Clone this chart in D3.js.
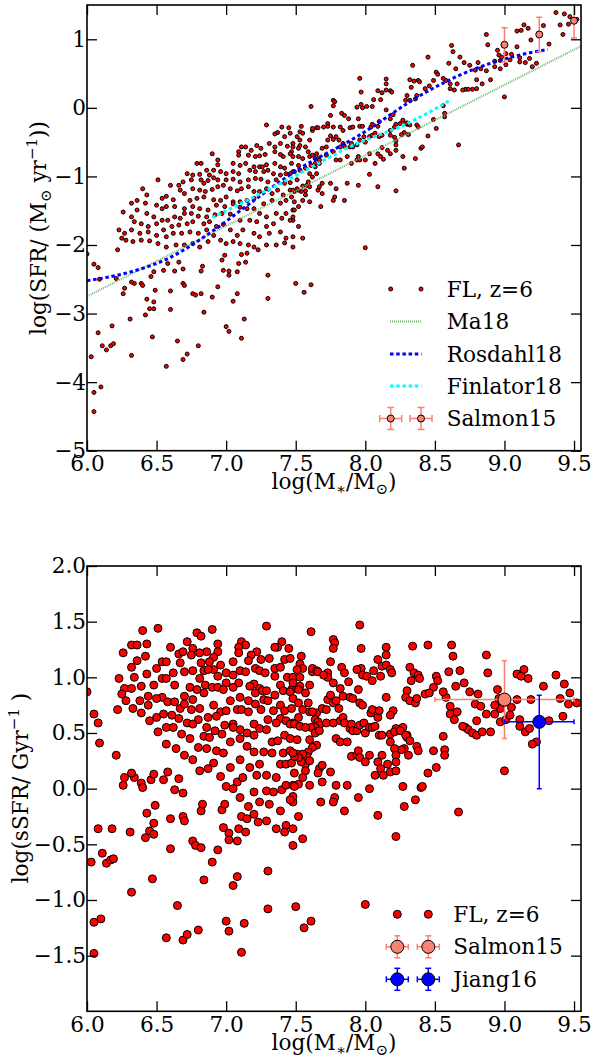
<!DOCTYPE html>
<html>
<head>
    <meta charset="UTF-8">
    <title>SFR and sSFR vs stellar mass</title>
    <script src="https://d3js.org/d3.v7.min.js"></script>
    <style>
        body { margin: 0; background: #fff; }
        text { font-family: "DejaVu Serif", serif; fill: #000; }
    </style>
</head>
<body>
<div id="chart"></div>
<script>

    // FL galaxies at z=6: [log(M*/Msun), log(SFR)]
    var flGalaxies = [
        [7.29,-0.25],[7.40,-0.28],[7.37,-0.36],[7.35,-0.38],[7.45,-0.29],[7.42,-0.42],[7.31,-0.52],[7.35,-0.57],[7.39,-0.52],[7.44,-0.56],[7.48,-0.52],
        [7.11,-0.57],[7.14,-0.57],[7.22,-0.55],[7.25,-0.59],[7.18,-0.62],[6.90,-0.67],[7.09,-0.64],[7.09,-0.69],[7.16,-0.69],[7.21,-0.71],[7.24,-0.70],
        [7.28,-0.68],[7.35,-0.64],[7.39,-0.68],[7.41,-0.71],[7.47,-0.64],[6.79,-0.81],[6.82,-0.81],[6.94,-0.76],[6.94,-0.83],[7.05,-0.81],[7.10,-0.84],
        [7.14,-0.81],[7.20,-0.86],[7.24,-0.86],[7.26,-0.86],[7.29,-0.83],[7.35,-0.81],[7.39,-0.86],[7.42,-0.88],[7.47,-0.81],[7.52,-0.84],[6.86,-0.91],
        [6.91,-0.91],[6.96,-0.93],[7.00,-0.96],[7.05,-0.93],[7.09,-0.96],[7.17,-0.91],[7.21,-0.93],[7.27,-0.93],[7.30,-0.91],[7.34,-0.96],[7.39,-0.98],
        [7.43,-0.96],[7.48,-0.93],[6.72,-0.96],[6.76,-0.98],[6.81,-0.97],[6.88,-0.98],[6.91,-1.02],[6.94,-1.05],[6.51,-1.05],[6.66,-1.13],[6.69,-1.08],
        [6.75,-1.05],[6.82,-1.05],[6.84,-1.10],[6.87,-1.06],[7.00,-1.05],[7.05,-1.04],[7.10,-1.08],[7.16,-1.05],[7.21,-1.03],[7.25,-1.04],[7.30,-1.08],
        [7.36,-1.05],[7.42,-1.10],[7.46,-1.09],[7.51,-1.05],[6.60,-1.13],[6.67,-1.20],[6.70,-1.25],[6.76,-1.18],[6.81,-1.20],[6.85,-1.22],[6.90,-1.19],
        [6.94,-1.15],[6.98,-1.13],[7.03,-1.18],[7.08,-1.21],[7.11,-1.18],[7.16,-1.15],[7.20,-1.22],[7.24,-1.22],[7.29,-1.18],[7.33,-1.25],[7.37,-1.20],
        [7.41,-1.27],[7.46,-1.20],[7.51,-1.18],[6.40,-1.18],[6.43,-1.27],[6.54,-1.32],[6.57,-1.29],[6.62,-1.34],[6.74,-1.35],[6.79,-1.32],[6.84,-1.30],
        [6.91,-1.34],[6.96,-1.35],[7.00,-1.30],[7.05,-1.37],[7.10,-1.37],[7.15,-1.35],[7.20,-1.32],[6.32,-1.39],[6.36,-1.35],[6.42,-1.39],[6.50,-1.42],
        [6.54,-1.47],[6.57,-1.44],[6.63,-1.44],[6.70,-1.47],[6.76,-1.44],[6.81,-1.47],[6.87,-1.49],[6.93,-1.42],[6.99,-1.44],[7.05,-1.40],[7.27,-1.40],
        [7.33,-1.35],[7.39,-1.39],[7.43,-1.35],[7.47,-1.30],[7.49,-1.37],[6.26,-1.52],[6.32,-1.59],[6.36,-1.49],[6.43,-1.54],[6.48,-1.59],[6.54,-1.64],
        [6.58,-1.64],[6.63,-1.59],[6.67,-1.61],[6.70,-1.54],[6.75,-1.54],[6.80,-1.58],[6.86,-1.59],[6.92,-1.56],[6.97,-1.54],[7.03,-1.55],[7.10,-1.45],
        [7.15,-1.47],[7.20,-1.47],[7.24,-1.54],[7.29,-1.59],[7.36,-1.54],[7.40,-1.61],[7.43,-1.54],[7.48,-1.49],[7.52,-1.44],[6.34,-1.66],[6.39,-1.69],
        [6.44,-1.73],[6.50,-1.69],[6.55,-1.78],[6.61,-1.73],[6.66,-1.71],[6.72,-1.69],[6.76,-1.66],[6.84,-1.69],[6.88,-1.66],[6.93,-1.73],[6.98,-1.70],
        [7.10,-1.64],[7.17,-1.64],[7.22,-1.66],[7.29,-1.73],[7.34,-1.69],[7.48,-1.64],[7.52,-1.73],[6.23,-1.78],[6.27,-1.83],[6.32,-1.78],[6.38,-1.83],
        [6.44,-1.81],[6.50,-1.86],[6.57,-1.88],[6.62,-1.83],[6.68,-1.83],[6.74,-1.81],[6.80,-1.83],[6.86,-1.78],[6.91,-1.86],[7.03,-1.78],[7.08,-1.86],
        [7.12,-1.78],[7.20,-1.83],[7.24,-1.88],[7.31,-1.83],[7.39,-1.81],[7.43,-1.90],[7.48,-1.88],[6.25,-1.90],[6.28,-1.93],[6.33,-1.95],[6.39,-1.93],
        [6.45,-1.94],[6.51,-1.98],[6.57,-2.03],[6.64,-2.00],[6.70,-2.00],[6.76,-1.98],[6.81,-2.03],[6.87,-1.95],[6.96,-1.93],[7.00,-1.98],[7.05,-1.95],
        [7.10,-1.98],[7.16,-2.00],[7.20,-2.03],[7.29,-2.00],[7.36,-2.00],[7.42,-1.97],[7.48,-2.03],
        [6.00,-2.13],[6.05,-2.28],[6.08,-2.33],[6.09,-2.50],[6.22,-2.07],[6.21,-2.49],[6.27,-2.63],[6.26,-2.71],[6.34,-2.56],[6.32,-2.54],[6.39,-2.56],
        [6.40,-2.59],[6.46,-2.46],[6.48,-2.39],[6.43,-2.79],[6.48,-2.83],[6.45,-2.93],[6.48,-2.93],[6.49,-2.66],[6.55,-2.37],[6.58,-2.27],[6.60,-2.67],
        [6.66,-2.25],[6.69,-2.35],[6.63,-2.38],[6.69,-2.56],[6.70,-2.59],[6.76,-2.71],[6.78,-2.73],[6.82,-2.71],[6.82,-2.38],[6.83,-2.31],[6.90,-2.76],
        [6.94,-2.61],[6.98,-2.37],[6.97,-2.22],[6.99,-2.15],[7.02,-2.38],[7.02,-2.44],[7.05,-2.82],[7.08,-2.71],[7.08,-2.39],[7.09,-2.27],[7.11,-2.14],
        [7.14,-2.25],[7.15,-2.12],[7.23,-2.07],[7.30,-2.44],[7.30,-2.78],[7.50,-2.56],[6.03,-3.63],[6.08,-3.28],[6.11,-3.47],[6.10,-4.07],[6.05,-4.15],
        [6.05,-4.43],[6.14,-3.53],[6.17,-3.47],[6.19,-3.44],[6.18,-3.18],[6.31,-3.08],[6.32,-3.61],[6.42,-3.02],[6.47,-3.34],[6.60,-2.94],[6.57,-3.77],
        [6.65,-3.40],[6.69,-3.67],[6.72,-3.59],[6.80,-3.47],[6.84,-2.98],[7.00,-3.19],[7.02,-3.26],[7.11,-3.36],[7.13,-3.08],[7.56,-2.69],[7.61,-2.58],
        [9.37,1.39],[9.43,1.37],[9.47,1.33],[9.52,1.29],[9.40,1.21],[9.46,1.22],[9.42,1.07],[9.14,1.21],[9.17,1.16],[9.09,1.12],[9.12,1.13],
        [9.19,0.99],[9.28,1.20],[9.32,0.93],[9.23,0.65],[9.20,0.60],[8.87,1.07],[8.88,0.92],[8.95,0.84],[8.96,0.77],[8.98,0.74],[9.01,0.79],
        [9.05,0.78],[9.09,0.89],[9.11,0.73],[9.15,0.66],[9.18,0.72],[9.11,0.67],[8.97,0.69],[8.93,0.68],[8.97,0.57],[9.01,0.63],[9.04,0.70],
        [9.00,0.16],[8.90,0.41],[8.62,0.91],[8.63,0.82],[8.68,0.74],[8.45,0.74],[8.60,0.65],[8.65,0.57],[8.71,0.66],[8.75,0.62],[8.79,0.55],
        [8.83,0.57],[8.81,0.66],[8.87,0.54],[8.93,0.60],[8.51,0.52],[8.52,0.49],[8.58,0.40],[8.61,0.35],[8.61,0.28],[8.56,0.43],[8.49,0.40],
        [8.43,0.28],[8.46,0.32],[8.64,0.26],[8.66,0.35],[8.72,0.27],[8.74,0.27],[8.70,0.26],[8.77,0.27],[8.80,0.28],[8.84,0.35],[8.80,0.41],
        [8.34,0.62],[8.32,0.41],[8.35,0.39],[8.38,0.40],[8.39,0.38],[8.33,0.30],[8.30,0.18],[8.29,0.11],[8.32,0.11],[8.36,0.13],[8.37,0.18],
        [7.96,0.43],[8.15,0.42],[8.15,0.35],[8.12,0.22],[8.15,0.26],[8.18,0.25],[8.19,0.23],[7.97,0.23],[7.97,0.05],[7.94,0.01],[7.98,0.00],
        [8.01,0.02],[8.05,0.02],[8.09,0.25],[8.11,0.12],[8.06,0.12],[7.77,0.11],[7.78,0.09],[7.77,0.03],[7.83,-0.08],[7.85,-0.11],[7.88,-0.16],
        [7.95,-0.16],[7.96,-0.27],[7.98,-0.27],[8.04,-0.28],[8.05,-0.24],[8.09,-0.27],[8.10,-0.20],[8.15,-0.03],[8.20,-0.10],[8.18,-0.16],[8.22,-0.24],
        [8.27,-0.18],[8.30,-0.22],[8.30,-0.24],[7.61,0.02],[7.75,-0.11],[7.73,-0.23],[7.73,-0.27],[7.77,-0.28],[7.82,-0.28],[7.84,-0.33],[7.89,-0.29],
        [7.91,-0.28],[7.54,-0.27],[7.53,-0.35],[7.55,-0.37],[7.60,-0.47],[7.62,-0.33],[7.62,-0.30],[7.65,-0.29],[7.66,-0.29],[7.70,-0.28],[7.46,-0.37],
        [7.51,-0.42],[7.53,-0.47],[7.48,-0.57],[7.53,-0.55],[7.52,-0.59],[7.57,-0.57],[7.59,-0.64],[7.65,-0.67],[7.69,-0.59],[7.72,-0.57],[7.73,-0.47],
        [7.75,-0.41],[7.77,-0.46],[7.79,-0.42],[7.81,-0.47],[7.82,-0.57],[7.84,-0.52],[7.85,-0.56],[7.89,-0.57],[7.90,-0.52],[7.91,-0.57],[7.94,-0.54],
        [7.96,-0.47],[7.99,-0.42],[8.00,-0.50],[8.03,-0.42],[8.05,-0.40],[8.07,-0.37],[8.10,-0.42],[8.12,-0.40],[8.18,-0.33],[8.21,-0.28],[8.25,-0.23],
        [8.29,-0.23],[8.32,-0.25],[8.37,-0.25],[8.38,-0.28],[8.28,-0.36],[8.26,-0.39],[8.31,-0.39],[8.18,-0.40],[8.21,-0.43],[8.22,-0.48],[8.22,-0.54],
        [8.45,-0.41],[7.46,-0.67],[7.48,-0.71],[7.52,-0.71],[7.55,-0.74],[7.60,-0.71],[7.62,-0.69],[7.64,-0.74],[7.66,-0.74],[7.67,-0.76],[7.64,-0.81],
        [7.61,-0.84],[7.64,-0.86],[7.67,-0.81],[7.72,-0.69],[7.77,-0.64],[7.79,-0.76],[7.82,-0.76],[7.87,-0.71],[7.90,-0.81],[7.94,-0.76],[7.95,-0.71],
        [7.96,-0.76],[8.00,-0.76],[8.03,-0.67],[8.09,-0.67],[8.11,-0.71],[8.13,-0.75],[8.18,-0.67],[8.12,-0.58],[8.16,-0.62],[8.22,-0.62],[7.46,-0.96],
        [7.49,-0.93],[7.53,-0.91],[7.57,-0.88],[7.60,-0.96],[7.65,-0.96],[7.62,-1.01],[7.59,-1.08],[7.58,-1.13],[7.55,-1.14],[7.57,-1.21],[7.60,-1.15],
        [7.54,-1.22],[7.52,-1.20],[7.49,-1.22],[7.48,-1.20],[7.57,-1.27],[7.55,-1.35],[7.60,-1.37],[7.67,-1.15],[7.69,-1.25],[7.69,-1.10],[7.66,-1.20],
        [7.75,-1.10],[7.79,-1.18],[7.78,-1.30],[7.77,-1.35],[7.85,-1.35],[7.87,-1.10],[7.95,-1.13],[8.03,-0.97],[8.07,-0.81],[8.09,-1.15],[8.22,-1.21],
        [8.27,-0.71],[8.28,-0.88],[8.36,-0.74],[8.40,-0.59],[8.41,-0.57],[8.67,-0.54],[8.49,-0.17],[8.51,-0.30],[8.57,-0.08],[8.57,-0.13],[8.56,0.03],
        [7.49,-1.49],[7.48,-1.59],[7.46,-1.64],[7.68,-1.44],[7.55,-1.90],[8.00,-2.04]
    ];

    // model relations (upper panel)
    var ma18M = [6.0, 9.55];
    var ma18SFR = [-2.75, 0.90];
    var rosdahl18M = [6.0, 6.3, 6.6, 6.9, 7.2, 7.5, 7.94, 8.42, 8.66, 8.90, 9.13, 9.31];
    var rosdahl18SFR = [-2.52, -2.40, -2.18, -1.80, -1.35, -0.92, -0.42, 0.21, 0.46, 0.65, 0.78, 0.85];
    var finlator18M = [6.9, 7.0, 7.46, 7.94, 8.30, 8.60];
    var finlator18SFR = [-1.60, -1.50, -1.03, -0.52, -0.23, 0.10];

    // observations
    var salmonTopM = [9.0, 9.25, 9.5];
    var salmonTopSFR = [0.92, 1.07, 1.27];
    var salmonTopErr = [0.25, 0.25, 0.25];
    var salmonM = [9.0], salmonSSFR = [0.80], salmonMErr = [0.5], salmonSSFRErr = [0.35];
    var jiangM = [9.25], jiangSSFR = [0.60], jiangMErr = [0.25], jiangErrLow = [0.60], jiangErrHigh = [0.24];

    var xTicks = [6.0, 6.5, 7.0, 7.5, 8.0, 8.5, 9.0, 9.5];
    var sfrTicks = [-5, -4, -3, -2, -1, 0, 1];
    var ssfrTicks = [-1.5, -1.0, -0.5, 0.0, 0.5, 1.0, 1.5, 2.0];

    var salmonColor = "#fa8072";
    var fontSize = 21.6, smallSize = 15;

    var svg = d3.select("#chart").append("svg")
        .attr("width", 594)
        .attr("height", 1063);

    var x = d3.scaleLinear().domain([6, 9.55]).range([87, 581]);
    var yTop = d3.scaleLinear().domain([-5, 1.5]).range([450.7, 5]);
    var yBot = d3.scaleLinear().domain([-2, 2]).range([1011.3, 566]);

    function addClip(id, y) {
        svg.append("clipPath").attr("id", id).append("rect")
            .attr("x", x.range()[0]).attr("y", y.range()[1])
            .attr("width", x.range()[1] - x.range()[0])
            .attr("height", y.range()[0] - y.range()[1]);
        return svg.append("g").attr("clip-path", "url(#" + id + ")");
    }

    function drawFrame(y, yTicks, yFormat) {
        var y0 = y.range()[0], y1 = y.range()[1];
        var x0 = x.range()[0], x1 = x.range()[1];
        var axes = [
            svg.append("g").attr("transform", "translate(0," + y0 + ")")
                .call(d3.axisBottom(x).tickValues(xTicks).tickSize(-10).tickPadding(5).tickFormat(d3.format(".1f"))),
            svg.append("g").attr("transform", "translate(0," + y1 + ")")
                .call(d3.axisTop(x).tickValues(xTicks).tickSize(-10).tickFormat("")),
            svg.append("g").attr("transform", "translate(" + x0 + ",0)")
                .call(d3.axisLeft(y).tickValues(yTicks).tickSize(-10).tickPadding(1).tickFormat(yFormat)),
            svg.append("g").attr("transform", "translate(" + x1 + ",0)")
                .call(d3.axisRight(y).tickValues(yTicks).tickSize(-10).tickFormat(""))
        ];
        axes.forEach(function (g) {
            g.select(".domain").remove();
            g.attr("font-family", null).attr("font-size", fontSize);
            g.selectAll("line").attr("stroke", "#000").attr("stroke-width", 1.3);
        });
        svg.append("rect")
            .attr("x", x0).attr("y", y1)
            .attr("width", x1 - x0).attr("height", y0 - y1)
            .attr("fill", "none").attr("stroke", "#000").attr("stroke-width", 1.6);
    }

    // draws one errorbar point; errors given in data units
    function errorPoint(g, y, m, v, mLo, mHi, vLo, vHi, color, r, cap) {
        var cx = x(m), cy = y(v);
        if (mLo > 0 || mHi > 0) {
            g.append("line").attr("x1", x(m - mLo)).attr("x2", x(m + mHi)).attr("y1", cy).attr("y2", cy)
                .attr("stroke", color).attr("stroke-width", 1.5);
            [m - mLo, m + mHi].forEach(function (e) {
                g.append("line").attr("x1", x(e)).attr("x2", x(e)).attr("y1", cy - cap).attr("y2", cy + cap)
                    .attr("stroke", color).attr("stroke-width", 1.5);
            });
        }
        g.append("line").attr("x1", cx).attr("x2", cx).attr("y1", y(v - vLo)).attr("y2", y(v + vHi))
            .attr("stroke", color).attr("stroke-width", 1.5);
        [v - vLo, v + vHi].forEach(function (e) {
            g.append("line").attr("x1", cx - cap).attr("x2", cx + cap).attr("y1", y(e)).attr("y2", y(e))
                .attr("stroke", color).attr("stroke-width", 1.5);
        });
        g.append("circle").attr("cx", cx).attr("cy", cy).attr("r", r)
            .attr("fill", color).attr("stroke", "#000").attr("stroke-width", 1);
    }

    // legend marker with fixed pixel error arms
    function legendErr(g, cx, cy, color, r, arm, cap) {
        g.append("line").attr("x1", cx - arm).attr("x2", cx + arm).attr("y1", cy).attr("y2", cy).attr("stroke", color).attr("stroke-width", 1.5);
        g.append("line").attr("x1", cx).attr("x2", cx).attr("y1", cy - arm).attr("y2", cy + arm).attr("stroke", color).attr("stroke-width", 1.5);
        [-arm, arm].forEach(function (d) {
            g.append("line").attr("x1", cx + d).attr("x2", cx + d).attr("y1", cy - cap).attr("y2", cy + cap).attr("stroke", color).attr("stroke-width", 1.5);
            g.append("line").attr("x1", cx - cap).attr("x2", cx + cap).attr("y1", cy + d).attr("y2", cy + d).attr("stroke", color).attr("stroke-width", 1.5);
        });
        g.append("circle").attr("cx", cx).attr("cy", cy).attr("r", r).attr("fill", color).attr("stroke", "#000").attr("stroke-width", 1);
    }

    // text with sub/superscripts: parts = [[text, shift]] shift: 0 normal, -1 sub, 1 sup
    function richText(g, parts) {
        var t = g.append("text").attr("font-size", fontSize);
        var cur = 0;
        parts.forEach(function (p) {
            var target = p[1] === 1 ? -9 : (p[1] === -1 ? 5 : 0);
            t.append("tspan").attr("dy", target - cur)
                .attr("font-size", p[1] === 0 ? fontSize : smallSize)
                .text(p[0]);
            cur = target;
        });
        return t;
    }

    function flDot(sel, r) {
        sel.attr("r", r).attr("fill", "#ff0000").attr("stroke", "#000").attr("stroke-width", 1);
    }

    // ---------- upper panel: SFR ----------
    var topPanel = addClip("clipTop", yTop);

    topPanel.selectAll(".fl").data(flGalaxies).enter().append("circle")
        .attr("cx", function (d) { return x(d[0]); })
        .attr("cy", function (d) { return yTop(d[1]); })
        .call(flDot, 2);

    function relation(ms, vs, color, dash, width) {
        var line = d3.line().x(function (d) { return x(d[0]); }).y(function (d) { return yTop(d[1]); })
            .curve(d3.curveMonotoneX);
        topPanel.append("path").datum(d3.zip(ms, vs)).attr("d", line)
            .attr("fill", "none").attr("stroke", color).attr("stroke-width", width).attr("stroke-dasharray", dash);
    }
    relation(ma18M, ma18SFR, "#6fb86f", "1,1", 2);
    relation(rosdahl18M, rosdahl18SFR, "#0000ff", "3.5,2.7", 3);
    relation(finlator18M, finlator18SFR, "#00ffff", "3.5,2.7", 3);

    salmonTopM.forEach(function (m, i) {
        errorPoint(topPanel, yTop, m, salmonTopSFR[i], 0, 0, salmonTopErr[i], salmonTopErr[i], salmonColor, 3.5, 3);
    });

    drawFrame(yTop, sfrTicks, d3.format("d"));

    // legend
    var legTop = svg.append("g");
    var rowsTop = [289, 321.5, 354, 386, 418.5];
    [390.7, 421].forEach(function (cx) {
        legTop.append("circle").attr("cx", cx).attr("cy", rowsTop[0]).call(flDot, 2);
        legendErr(legTop, cx, rowsTop[4], salmonColor, 3.5, 11, 3.5);
    });
    [["#6fb86f", "1,1", 2], ["#0000ff", "3.5,2.7", 3], ["#00ffff", "3.5,2.7", 3]].forEach(function (s, i) {
        legTop.append("line").attr("x1", 390).attr("x2", 421.5)
            .attr("y1", rowsTop[i + 1]).attr("y2", rowsTop[i + 1])
            .attr("stroke", s[0]).attr("stroke-dasharray", s[1]).attr("stroke-width", s[2]);
    });
    ["FL, z=6", "Ma18", "Rosdahl18", "Finlator18", "Salmon15"].forEach(function (t, i) {
        legTop.append("text").attr("x", 446.7).attr("y", rowsTop[i] + 7.5).attr("font-size", fontSize).text(t);
    });

    // axis labels
    richText(svg.append("g").attr("transform", "translate(46,228) rotate(-90)"),
        [["log(SFR/ (M", 0], ["\u2299", -1], [" yr", 0], ["\u22121", 1], ["))", 0]])
        .attr("text-anchor", "middle");
    richText(svg.append("g").attr("transform", "translate(334,489)"),
        [["log(M", 0], ["\u2217", -1], ["/M", 0], ["\u2299", -1], [")", 0]])
        .attr("text-anchor", "middle");

    // ---------- lower panel: sSFR = SFR / M*, in Gyr^-1 ----------
    var botPanel = addClip("clipBot", yBot);

    botPanel.selectAll(".fl").data(flGalaxies).enter().append("circle")
        .attr("cx", function (d) { return x(d[0]); })
        .attr("cy", function (d) { return yBot(d[1] - d[0] + 9); })
        .call(flDot, 4);

    salmonM.forEach(function (m, i) {
        errorPoint(botPanel, yBot, m, salmonSSFR[i], salmonMErr[i], salmonMErr[i], salmonSSFRErr[i], salmonSSFRErr[i], salmonColor, 6.5, 2.5);
    });
    jiangM.forEach(function (m, i) {
        errorPoint(botPanel, yBot, m, jiangSSFR[i], jiangMErr[i], jiangMErr[i], jiangErrLow[i], jiangErrHigh[i], "#0000ff", 6.5, 2.5);
    });

    drawFrame(yBot, ssfrTicks, d3.format(".1f"));

    var legBot = svg.append("g");
    var rowsBot = [914.3, 946.8, 979.3];
    [397.3, 428.3].forEach(function (cx) {
        legBot.append("circle").attr("cx", cx).attr("cy", rowsBot[0]).call(flDot, 4);
        legendErr(legBot, cx, rowsBot[1], salmonColor, 6.5, 11, 3);
        legendErr(legBot, cx, rowsBot[2], "#0000ff", 6.5, 11, 3);
    });
    ["FL, z=6", "Salmon15", "Jiang16"].forEach(function (t, i) {
        legBot.append("text").attr("x", 453.3).attr("y", rowsBot[i] + 7.5).attr("font-size", fontSize).text(t);
    });

    richText(svg.append("g").attr("transform", "translate(28,788) rotate(-90)"),
        [["log(sSFR/ Gyr", 0], ["\u22121", 1], [" )", 0]])
        .attr("text-anchor", "middle");
    richText(svg.append("g").attr("transform", "translate(334,1050)"),
        [["log(M", 0], ["\u2217", -1], ["/M", 0], ["\u2299", -1], [")", 0]])
        .attr("text-anchor", "middle");

</script>
</body>
</html>
